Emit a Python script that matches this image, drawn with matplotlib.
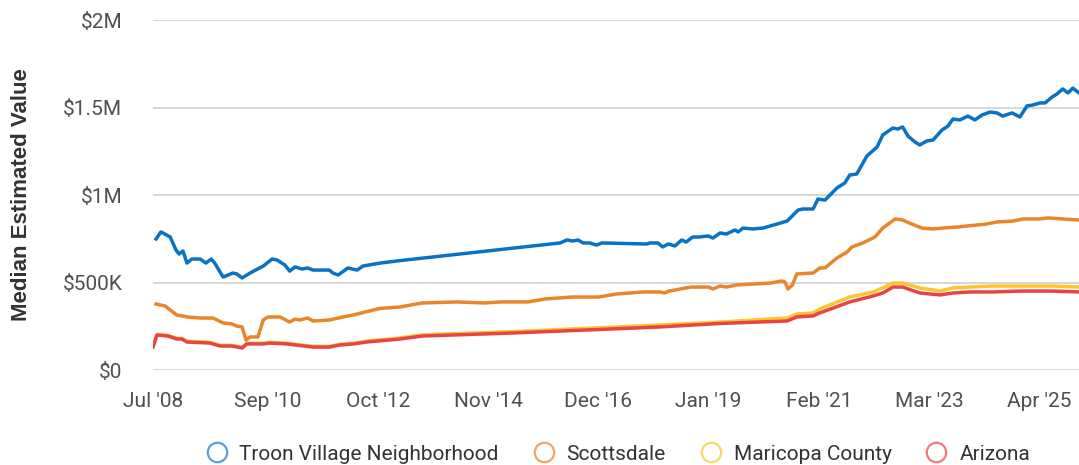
import numpy as np
import matplotlib.pyplot as plt
from matplotlib.lines import Line2D

# months counted from Jul 2008
troon_m = [0.7, 1.8, 3.9, 5.2, 5.9, 6.8, 7.7, 8.8, 10.7, 12, 13.2, 14, 15.9, 18.1, 19, 20.2, 22, 25, 27, 28.1,
           29.9, 31, 32.2, 33.8, 35.1, 36.3, 40, 40.8, 42, 44.2, 46.3, 47.6, 51.5, 56,
           92.3, 93.9, 95.2, 96.4, 97.5, 99, 100.6, 101.8, 112, 112.7, 114.5, 115.6, 116.8, 118.4, 119.9,
           120.9, 122.4, 124, 125.9, 127, 128.6, 130, 132, 132.7, 133.8, 136, 138.3, 141.5, 143.8, 146.3,
           147.4, 149.7, 150.8, 152.4, 155.1, 156.9, 158, 159.6, 161.9, 164.2, 165.5, 167.8, 168.9, 170,
           171.2, 172.8, 173.9, 175.5, 176.9, 178.9, 180.3, 181.4, 183, 184.8, 186.4, 188, 189.8, 191.4,
           192.7, 194.8, 196.6, 198.2, 199.5, 201.1, 202.3, 203.9, 205, 206.3, 207.5, 208.6, 210]
troon_v = [749, 789, 760, 686, 663, 680, 611, 634, 634, 611, 634, 611, 531, 554, 549, 526, 554, 594, 634, 629,
           600, 565, 589, 577, 583, 571, 571, 554, 543, 583, 571, 594, 611, 625,
           726, 743, 737, 743, 726, 726, 714, 726, 720, 726, 726, 703, 720, 709, 743,
           731, 760, 760, 766, 754, 783, 777, 800, 789, 811, 806, 811, 834, 851, 914,
           920, 920, 977, 971, 1040, 1069, 1114, 1120, 1223, 1274, 1343, 1383, 1377, 1389,
           1337, 1303, 1286, 1309, 1314, 1371, 1394, 1434, 1429, 1451, 1429, 1457, 1474, 1469,
           1451, 1469, 1446, 1509, 1514, 1526, 1526, 1560, 1577, 1606, 1583, 1611, 1583]

scott_m = [0.7, 2.7, 3.9, 5.4, 6.6, 7.7, 10.7, 13.6, 15.9, 17.9, 19, 20.2, 21.1, 22, 23.8, 25, 26.1, 28.8,
           31, 32.2, 33.3, 35.1, 36.3, 40, 43.1, 45.4, 47.6, 51.5, 56, 61, 69, 75, 79, 85, 89, 95, 101,
           105, 111, 115, 116, 117, 122, 126, 127, 128.6, 130, 132.4, 140, 142.6, 143.3, 144, 145, 146,
           149.7, 151.2, 152.4, 155.1, 157.4, 158.5, 161, 163.7, 165.5, 168.3, 170, 172.1, 174.4, 176.9,
           178.9, 182.5, 184.6, 189, 191.4, 195, 197.3, 201, 203, 206.3, 210]
scott_v = [377, 366, 343, 314, 309, 303, 297, 297, 269, 263, 251, 246, 171, 189, 189, 286, 303, 303,
           274, 291, 286, 297, 280, 286, 303, 314, 328, 352, 360, 383, 389, 383, 389, 389, 406, 417, 417,
           434, 446, 446, 440, 451, 474, 474, 463, 480, 474, 486, 497, 509, 503, 463, 486, 549,
           554, 583, 583, 640, 674, 703, 726, 760, 811, 863, 857, 834, 811, 806,
           811, 817, 823, 834, 846, 851, 863, 863, 869, 863, 857]

maric_m = [0, 0.9, 3.4, 5.4, 6.6, 7.7, 12.9, 15.2, 17.9, 20.2, 21.3, 25, 26.5, 30.4, 36.3, 40, 42.4, 45.4,
           48.5, 56, 61, 81, 103.6, 115, 128.6, 143.8, 146, 149.7, 151.2, 158, 163.3, 165.5, 167.8, 170,
           173.9, 178.5, 181.4, 185.3, 190.5, 196.6, 204, 210]
maric_v = [135, 204, 198, 181, 181, 164, 158, 141, 141, 130, 153, 153, 158, 153, 135, 135, 147, 153,
           165, 183, 201, 219, 244, 257, 274, 297, 320, 326, 349, 417, 446, 469, 497, 497,
           469, 451, 469, 474, 480, 480, 480, 474]

az_m = [0, 0.9, 3.4, 5.4, 6.6, 7.7, 12.9, 15.2, 17.9, 20.2, 21.3, 25, 26.5, 30.4, 36.3, 40, 42.4, 45.4,
        48.5, 56, 61, 81, 103.6, 115, 128.6, 143.8, 146, 149.7, 151.2, 158, 163.3, 165.5, 167.8, 170,
        173.9, 178.5, 181.4, 185.3, 190.5, 196.6, 204, 210]
az_v = [131, 200, 194, 177, 177, 160, 154, 137, 137, 126, 149, 149, 154, 149, 131, 131, 143, 149,
        160, 177, 194, 211, 234, 246, 266, 280, 303, 309, 326, 389, 423, 440, 474, 474,
        440, 429, 440, 446, 446, 451, 451, 446]

names = ['Troon Village Neighborhood', 'Scottsdale', 'Maricopa County', 'Arizona']
colors = ['#0a72c4', '#e8862a', '#fcc630', '#ea4343']
legend_colors = ['#5d9fd6', '#f0a660', '#fdd66c', '#f07b7b']

tick_m = [0, 26, 51, 76, 101, 126, 151, 176, 201]
tick_lab = ["Jul '08", "Sep '10", "Oct '12", "Nov '14", "Dec '16", "Jan '19", "Feb '21", "Mar '23", "Apr '25"]
ytick_v = [0, 500000, 1000000, 1500000, 2000000]
ytick_lab = ['$0', '$500K', '$1M', '$1.5M', '$2M']

plt.rcParams['font.family'] = ['Roboto', 'DejaVu Sans']

fig = plt.figure(figsize=(10.79, 4.65), dpi=100)
ax = fig.add_axes([153 / 1079, 1 - 370 / 465, 1 - 153 / 1079, 350 / 465])

series = [(troon_m, troon_v), (scott_m, scott_v), (maric_m, maric_v), (az_m, az_v)]
for (m, v), c, z in zip(series, colors, [4, 3, 2, 2.5]):
    ax.plot(m, np.array(v) * 1000, color=c, lw=2.5, zorder=z, solid_joinstyle='round')

ax.set_xlim(0, 210)
ax.set_ylim(0, 2000000)
ax.set_xticks(tick_m)
ax.set_xticklabels(tick_lab)
ax.set_yticks(ytick_v)
ax.set_yticklabels(ytick_lab)
ax.tick_params(axis='both', length=0, labelsize=15, labelcolor='#505050')
ax.tick_params(axis='y', pad=22)
ax.tick_params(axis='x', pad=16)
ax.grid(axis='y', color='#cccccc', lw=1.1)
ax.set_axisbelow(True)
for s in ax.spines.values():
    s.set_visible(False)
ax.set_ylabel('Median Estimated Value', family=['Liberation Sans', 'DejaVu Sans'],
              fontsize=16, fontweight='bold', color='#333333', labelpad=22)

handles = [Line2D([], [], ls='none', marker='o', markersize=14, markerfacecolor='none',
                  markeredgecolor=c, markeredgewidth=1.6) for c in legend_colors]
fig.legend(handles, names, loc='center', bbox_to_anchor=(617 / 1079, 1 - 454 / 465), ncol=4,
           frameon=False, fontsize=15, labelcolor='#333333', handletextpad=0.5, columnspacing=1.55,
           handlelength=1.2)

fig.savefig('out.png', dpi=100)
